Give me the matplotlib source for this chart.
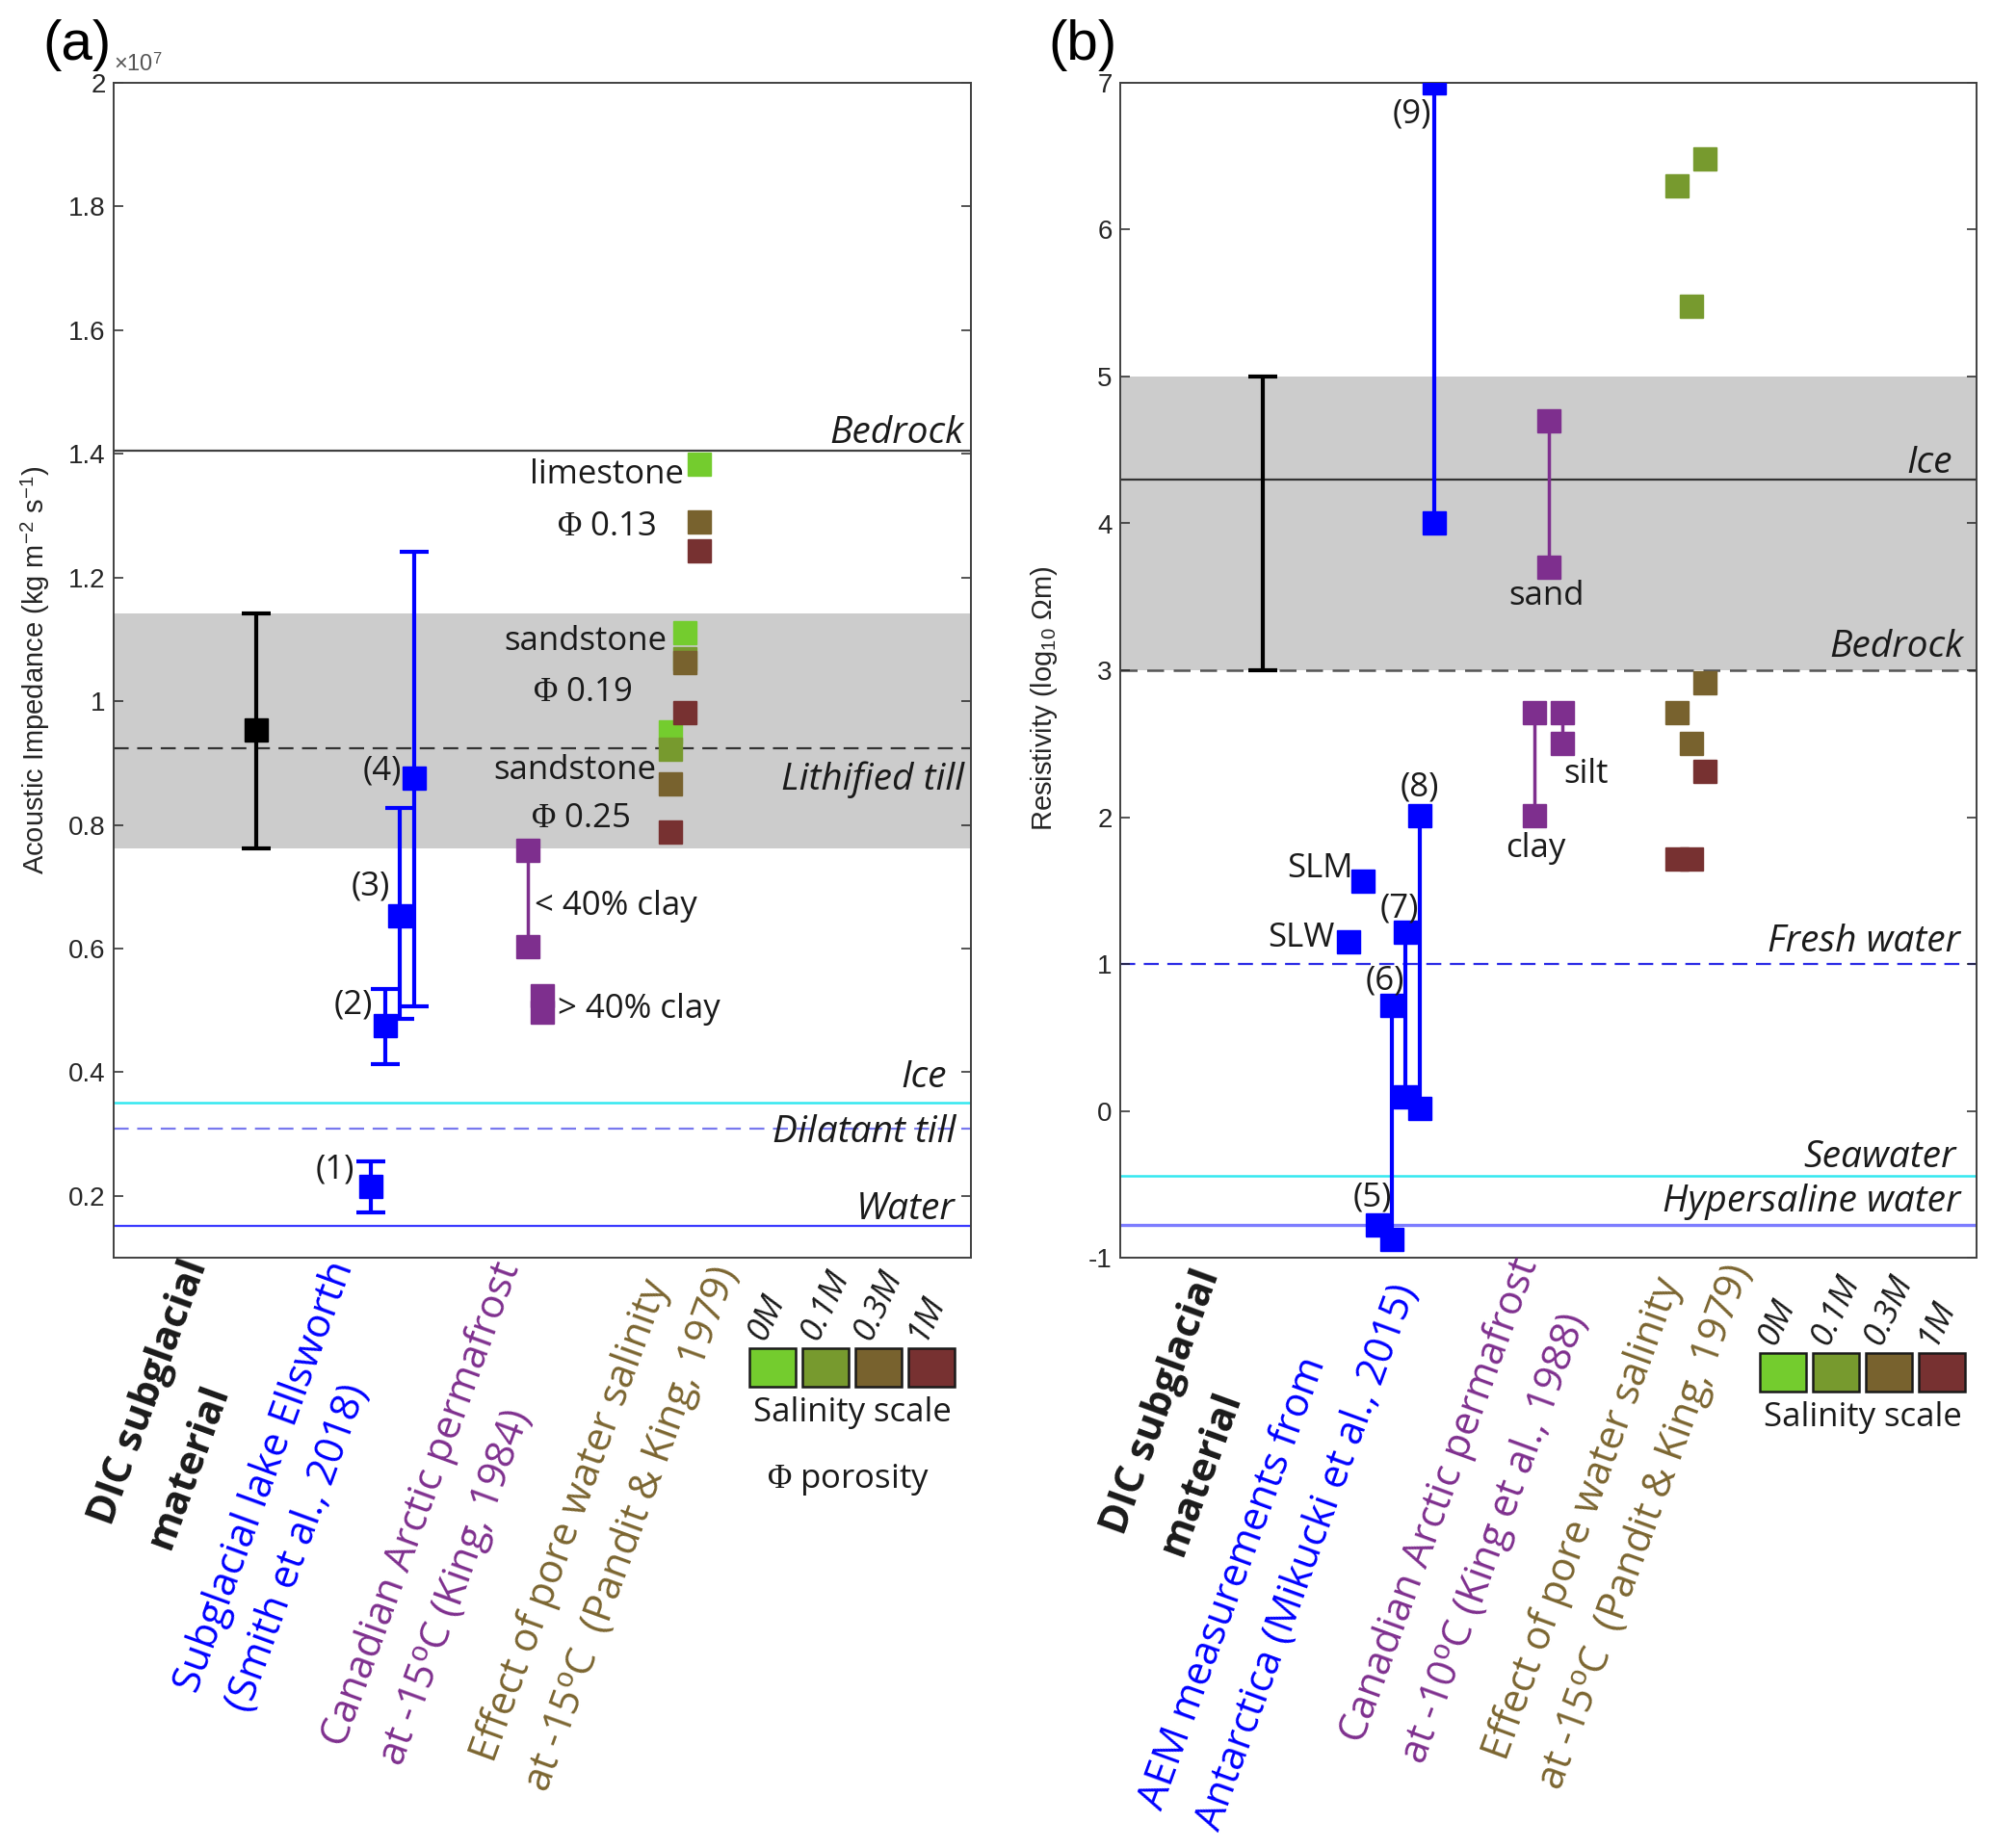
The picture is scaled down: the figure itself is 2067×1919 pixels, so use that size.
import matplotlib
matplotlib.use('Agg')
import numpy as np
import matplotlib.pyplot as plt
from matplotlib.ticker import FuncFormatter, FixedLocator

plt.rcParams['mathtext.fontset'] = 'custom'
plt.rcParams['mathtext.rm'] = 'Liberation Serif'
plt.rcParams['mathtext.sf'] = 'Liberation Sans'
plt.rcParams['mathtext.it'] = 'Liberation Serif:italic'

W, H = 2067, 1919

BLUE = '#0000ff'
PURPLE = '#7e2f8e'
BROWN_TXT = '#7b6530'
AXCOL = '#262626'
SAL_COLORS = ['#74cc2e', '#779a2e', '#78622e', '#773131']
SAL_LABELS = ['0M', '0.1M', '0.3M', '1M']

# ---------------- (a) acoustic impedance, in units of 1e7 kg m-2 s-1
DIC_A_X, DIC_A_Y, DIC_A_LO, DIC_A_HI = 1.0, 0.954, 0.762, 1.142
ELL_X = np.array([1.8, 1.9, 2.0, 2.1])
ELL_Y = np.array([0.216, 0.475, 0.653, 0.875])
ELL_LO = np.array([0.173, 0.413, 0.486, 0.506])
ELL_HI = np.array([0.255, 0.535, 0.827, 1.242])
CLAY_LT40_X, CLAY_LT40_Y = [2.9, 2.9], [0.758, 0.603]
CLAY_GT40_X, CLAY_GT40_Y = [3.0, 3.0], [0.497, 0.524]
# salinity effect: x column, value, salinity level index
SAL_A_X = [3.9, 3.9, 3.9, 3.9, 4.0, 4.0, 4.0, 4.0, 4.1, 4.1, 4.1]
SAL_A_Y = [0.951, 0.923, 0.866, 0.789, 1.110, 1.069, 1.063, 0.982, 1.383, 1.290, 1.243]
SAL_A_L = [0, 1, 2, 3, 0, 1, 2, 3, 0, 2, 3]
BAND_A = (0.762, 1.142)
LINES_A = {'Bedrock': 1.405, 'Lithified till': 0.924, 'Ice': 0.351,
           'Dilatant till': 0.309, 'Water': 0.152}

# ---------------- (b) resistivity, log10 ohm m
DIC_B_X, DIC_B_LO, DIC_B_HI = 1.0, 3.0, 5.0
AEM_X = [1.9, 2.0, 2.1, 2.2]          # (6) (7) (8) (9)
AEM_TOP = [0.72, 1.215, 2.01, 7.0]
AEM_BOT = [-0.875, 0.097, 0.015, 4.0]
AEM5_X, AEM5_Y = 1.8, -0.78
SLW_X, SLW_Y = 1.6, 1.15
SLM_X, SLM_Y = 1.7, 1.565
PERM_B_X = [2.9, 3.0, 3.1]             # clay, sand, silt
PERM_B_TOP = [2.71, 4.70, 2.71]
PERM_B_BOT = [2.01, 3.70, 2.50]
SAL_B_X = [3.9, 4.0, 4.1, 3.9, 4.0, 4.1, 3.9, 4.0, 4.1]
SAL_B_Y = [6.30, 5.48, 6.48, 2.71, 2.50, 2.915, 1.715, 1.715, 2.313]
SAL_B_L = [1, 1, 1, 2, 2, 2, 3, 3, 3]
BAND_B = (3.0, 5.0)
LINES_B = {'Ice': 4.30, 'Bedrock': 3.0, 'Fresh water': 1.0,
           'Seawater': -0.44, 'Hypersaline water': -0.78}

MS = 17
ANN = dict(fontsize=25, family='Open Sans', color='#1a1a1a')
ITAL = dict(fontsize=28, family='Open Sans', style='italic', color='#1a1a1a')


def style_axes(ax, ylim, yticks):
    ax.set_xlim(0, 6)
    ax.set_ylim(*ylim)
    ax.set_xticks([])
    ax.yaxis.set_major_locator(FixedLocator(yticks))
    ax.yaxis.set_major_formatter(FuncFormatter(lambda v, p: '%g' % round(v, 3)))
    ax.tick_params(axis='y', direction='in', left=True, right=True, length=7,
                   width=1.1, color=AXCOL, labelcolor=AXCOL, labelsize=20, pad=6)
    for lab in ax.get_yticklabels():
        lab.set_family('Liberation Sans')
    for s in ax.spines.values():
        s.set_color('#404040')
        s.set_linewidth(1.4)


def pix(x, y):
    return x / W, 1 - y / H


fig = plt.figure(figsize=(W / 100, H / 100), dpi=100)
axa = fig.add_axes([118 / W, 1 - 1306 / H, 890 / W, 1220 / H])
axb = fig.add_axes([1163 / W, 1 - 1306 / H, 889 / W, 1220 / H])

# ================= panel (a)
ax = axa
style_axes(ax, (0.1, 2.0), np.arange(0.2, 2.01, 0.2))
ax.axhspan(*BAND_A, color='#cccccc', lw=0, zorder=0)
ax.axhline(LINES_A['Bedrock'], color='#404040', lw=1.6, zorder=1)
ax.axhline(LINES_A['Lithified till'], color='#333333', lw=1.6, dashes=(7, 4), zorder=1)
ax.axhline(LINES_A['Ice'], color='#33e8f0', lw=1.8, zorder=1)
ax.axhline(LINES_A['Dilatant till'], color='#7878ee', lw=1.6, dashes=(7, 4), zorder=1)
ax.axhline(LINES_A['Water'], color='#3a3aff', lw=1.6, zorder=1)

ax.errorbar([DIC_A_X], [DIC_A_Y], yerr=[[DIC_A_Y - DIC_A_LO], [DIC_A_HI - DIC_A_Y]],
            fmt='s', color='k', ms=MS, lw=3, capsize=11, capthick=3, zorder=3)
ax.errorbar(ELL_X, ELL_Y, yerr=[ELL_Y - ELL_LO, ELL_HI - ELL_Y], fmt='s', color=BLUE,
            ms=MS, lw=3, capsize=11, capthick=3, zorder=3)
ax.plot(CLAY_LT40_X, CLAY_LT40_Y, '-s', color=PURPLE, lw=2.5, ms=MS, zorder=3)
ax.plot(CLAY_GT40_X, CLAY_GT40_Y, 's', color=PURPLE, ms=MS, zorder=3)
for x, y, lev in sorted(zip(SAL_A_X, SAL_A_Y, SAL_A_L), key=lambda t: t[2]):
    ax.plot(x, y, 's', color=SAL_COLORS[lev], ms=MS, zorder=3)

ytr = ax.get_yaxis_transform()
ax.text(0.992, 1.417, 'Bedrock', transform=ytr, ha='right', va='baseline', **ITAL)
ax.text(0.992, 0.857, 'Lithified till', transform=ytr, ha='right', va='baseline', **ITAL)
ax.text(0.972, 0.376, 'Ice', transform=ytr, ha='right', va='baseline', **ITAL)
ax.text(0.983, 0.287, 'Dilatant till', transform=ytr, ha='right', va='baseline', **ITAL)
ax.text(0.982, 0.162, 'Water', transform=ytr, ha='right', va='baseline', **ITAL)

for lab, x, y in [('(1)', 1.686, 0.228), ('(2)', 1.814, 0.4955),
                  ('(3)', 1.935, 0.6856), ('(4)', 2.016, 0.8725)]:
    ax.text(x, y, lab, ha='right', va='baseline', **ANN)
ax.text(2.947, 0.654, '< 40% clay', ha='left', va='baseline', **ANN)
ax.text(3.109, 0.488, '> 40% clay', ha='left', va='baseline', **ANN)
ax.text(3.992, 1.352, 'limestone', ha='right', va='baseline', **ANN)
ax.text(3.871, 1.0827, 'sandstone', ha='right', va='baseline', **ANN)
ax.text(3.796, 0.874, 'sandstone', ha='right', va='baseline', **ANN)
for lab, x, y in [('0.13', 3.796, 1.268), ('0.19', 3.628, 1.0), ('0.25', 3.614, 0.796)]:
    ax.text(x, y, r'$\Phi$ ' + lab, ha='right', va='baseline', **ANN)

ax.text(0.0, 1.006, '×10$^{\\mathsf{7}}$', transform=ax.transAxes, ha='left',
        va='bottom', fontsize=17, color='#555555', family='Liberation Sans')
ax.set_ylabel(r'Acoustic Impedance (kg m$^{\mathsf{-2}}$ s$^{\mathsf{-1}}$)',
              fontsize=21, color=AXCOL, family='Liberation Sans')
ax.yaxis.set_label_coords(-0.072, 0.5)

# ================= panel (b)
ax = axb
style_axes(ax, (-1, 7), np.arange(-1, 7.01, 1))
ax.axhspan(*BAND_B, color='#cccccc', lw=0, zorder=0)
ax.axhline(LINES_B['Ice'], color='#333333', lw=1.6, zorder=1)
ax.axhline(LINES_B['Bedrock'], color='#555555', lw=1.8, dashes=(7, 4), zorder=1)
ax.axhline(LINES_B['Fresh water'], color='#2a2ae6', lw=1.6, dashes=(7, 4), zorder=1)
ax.axhline(LINES_B['Seawater'], color='#33e8f0', lw=1.8, zorder=1)
ax.axhline(LINES_B['Hypersaline water'], color='#7d7dff', lw=2.4, zorder=1)

ax.errorbar([DIC_B_X], [(DIC_B_LO + DIC_B_HI) / 2], yerr=[[(DIC_B_HI - DIC_B_LO) / 2]],
            fmt='none', ecolor='k', lw=3, capsize=11, capthick=3, zorder=3)
for x, t, b in zip(AEM_X, AEM_TOP, AEM_BOT):
    ax.plot([x, x], [t, b], '-s', color=BLUE, lw=3, ms=MS, zorder=3)
ax.plot(AEM5_X, AEM5_Y, 's', color=BLUE, ms=MS, zorder=3)
ax.plot(SLW_X, SLW_Y, 's', color=BLUE, ms=MS, zorder=3)
ax.plot(SLM_X, SLM_Y, 's', color=BLUE, ms=MS, zorder=3)
for x, t, b in zip(PERM_B_X, PERM_B_TOP, PERM_B_BOT):
    ax.plot([x, x], [t, b], '-s', color=PURPLE, lw=2.5, ms=MS, zorder=3)
for x, y, lev in sorted(zip(SAL_B_X, SAL_B_Y, SAL_B_L), key=lambda t: t[2]):
    ax.plot(x, y, 's', color=SAL_COLORS[lev], ms=MS, zorder=3)

ytr = ax.get_yaxis_transform()
ax.text(0.972, 4.344, 'Ice', transform=ytr, ha='right', va='baseline', **ITAL)
ax.text(0.985, 3.092, 'Bedrock', transform=ytr, ha='right', va='baseline', **ITAL)
ax.text(0.981, 1.085, 'Fresh water', transform=ytr, ha='right', va='baseline', **ITAL)
ax.text(0.976, -0.384, 'Seawater', transform=ytr, ha='right', va='baseline', **ITAL)
ax.text(0.981, -0.685, 'Hypersaline water', transform=ytr, ha='right', va='baseline', **ITAL)

ax.text(2.18, 6.731, '(9)', ha='right', va='baseline', **ANN)
for lab, x, y in [('(8)', 2.098, 2.141), ('(7)', 1.953, 1.321),
                  ('(6)', 1.856, 0.823), ('(5)', 1.765, -0.646)]:
    ax.text(x, y, lab, ha='center', va='baseline', **ANN)
ax.text(1.633, 1.59, 'SLM', ha='right', va='baseline', **ANN)
ax.text(1.505, 1.118, 'SLW', ha='right', va='baseline', **ANN)
ax.text(2.989, 3.446, 'sand', ha='center', va='baseline', **ANN)
ax.text(2.912, 1.728, 'clay', ha='center', va='baseline', **ANN)
ax.text(3.104, 2.233, 'silt', ha='left', va='baseline', **ANN)

ax.set_ylabel(r'Resistivity (log$_{\mathsf{10}}$ Ωm)', fontsize=21, color=AXCOL,
              family='Liberation Sans')
ax.yaxis.set_label_coords(-0.071, 0.476)

# ================= panel letters
fig.text(*pix(44, 20), '(a)', ha='left', va='top', fontsize=42, family='Liberation Sans')
fig.text(*pix(1088, 20), '(b)', ha='left', va='top', fontsize=42, family='Liberation Sans')

# ================= category labels under the axes
DEG = r'$^{\mathsf{o}}$'
CAT_A = [('DIC subglacial', '#1a1a1a', 'bold', (96, 1586)),
         ('material', '#1a1a1a', 'bold', (156, 1610)),
         ('Subglacial lake Ellsworth', BLUE, 'normal', (185, 1760)),
         ('(Smith et al., 2018)', BLUE, 'normal', (238, 1780)),
         ('Canadian Arctic permafrost', PURPLE, 'normal', (338, 1816)),
         ('at -15' + DEG + 'C (King, 1984)', PURPLE, 'normal', (397, 1836)),
         ('Effect of pore water salinity', BROWN_TXT, 'normal', (493, 1832)),
         ('at -15' + DEG + 'C  (Pandit & King, 1979)', BROWN_TXT, 'normal', (548, 1863))]
CAT_B = [('DIC subglacial', '#1a1a1a', 'bold', (1147, 1596)),
         ('material', '#1a1a1a', 'bold', (1207, 1617)),
         ('AEM measurements from', BLUE, 'normal', (1186, 1881)),
         ('Antarctica (Mikucki et al., 2015)', BLUE, 'normal', (1245, 1903)),
         ('Canadian Arctic permafrost', PURPLE, 'normal', (1395, 1812)),
         ('at -10' + DEG + 'C (King et al., 1988)', PURPLE, 'normal', (1458, 1834)),
         ('Effect of pore water salinity', BROWN_TXT, 'normal', (1544, 1830)),
         ('at -15' + DEG + 'C  (Pandit & King, 1979)', BROWN_TXT, 'normal', (1600, 1861))]
for txt, col, wt, (px, py) in CAT_A + CAT_B:
    fig.text(*pix(px + 20, py), txt, color=col, fontweight=wt, fontsize=30,
             family='Open Sans', rotation=70, rotation_mode='anchor', ha='left',
             va='baseline')


# ================= salinity keys
def salinity_key(x0, y0, porosity):
    kax = fig.add_axes([x0 / W, 1 - (y0 + 40) / H, 213 / W, 40 / H])
    kax.bar(np.arange(4), np.ones(4), width=0.87, color=SAL_COLORS,
            edgecolor='#1a1a1a', linewidth=1.8, clip_on=False)
    kax.set_xlim(-0.435, 3.435)
    kax.set_ylim(0, 1)
    kax.axis('off')
    for i, lab in enumerate(SAL_LABELS):
        kax.text(i - 0.15, 1.18, lab, rotation=65, rotation_mode='anchor', ha='left',
                 va='baseline', fontsize=25, style='italic', family='Open Sans',
                 color='#1a1a1a')
    kax.text(1.5, -0.9, 'Salinity scale', ha='center', va='baseline', fontsize=25,
             family='Open Sans', color='#1a1a1a')
    if porosity:
        kax.text(1.42, -2.62, r'$\Phi$ porosity', ha='center', va='baseline',
                 fontsize=25, family='Open Sans', color='#1a1a1a')


salinity_key(778, 1400, True)
salinity_key(1827, 1405, False)

fig.savefig('out.png', dpi=100)
